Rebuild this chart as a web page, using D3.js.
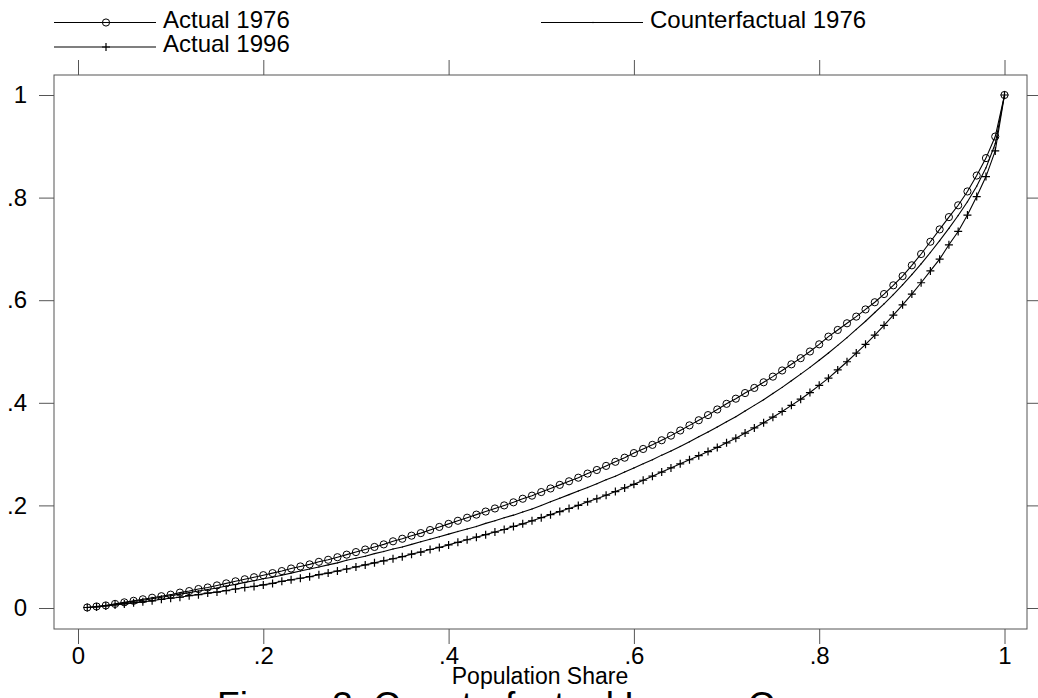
<!DOCTYPE html>
<html lang="en">
	<head>
		<meta charset="utf-8">
		<title>lorenz curves</title>
		<script type="text/javascript" src="https://cdn.jsdelivr.net/npm/d3@7"></script>
		<style type="text/css">
			body { margin: 0; background: #fff; }
			text { font-family: "Liberation Sans", Arial, sans-serif; fill: #000; }
		</style>
	</head>
	<body>
		<script type="text/javascript">

// population share (x), 100 points
var share = [0.01,0.02,0.03,0.04,0.05,0.06,0.07,0.08,0.09,0.10,
	0.11,0.12,0.13,0.14,0.15,0.16,0.17,0.18,0.19,0.20,
	0.21,0.22,0.23,0.24,0.25,0.26,0.27,0.28,0.29,0.30,
	0.31,0.32,0.33,0.34,0.35,0.36,0.37,0.38,0.39,0.40,
	0.41,0.42,0.43,0.44,0.45,0.46,0.47,0.48,0.49,0.50,
	0.51,0.52,0.53,0.54,0.55,0.56,0.57,0.58,0.59,0.60,
	0.61,0.62,0.63,0.64,0.65,0.66,0.67,0.68,0.69,0.70,
	0.71,0.72,0.73,0.74,0.75,0.76,0.77,0.78,0.79,0.80,
	0.81,0.82,0.83,0.84,0.85,0.86,0.87,0.88,0.89,0.90,
	0.91,0.92,0.93,0.94,0.95,0.96,0.97,0.98,0.99,1.00]

var actual1976 = [0.001,0.003,0.005,0.008,0.011,0.014,0.017,0.020,0.023,0.026,
	0.030,0.033,0.037,0.040,0.044,0.048,0.052,0.056,0.060,0.064,
	0.068,0.072,0.077,0.081,0.085,0.090,0.094,0.099,0.104,0.109,
	0.114,0.119,0.124,0.130,0.135,0.141,0.146,0.152,0.158,0.164,
	0.170,0.176,0.182,0.188,0.194,0.200,0.206,0.213,0.219,0.226,
	0.233,0.240,0.247,0.254,0.262,0.269,0.277,0.285,0.293,0.302,
	0.310,0.318,0.327,0.336,0.346,0.356,0.366,0.376,0.387,0.398,
	0.408,0.419,0.429,0.440,0.451,0.463,0.475,0.487,0.500,0.514,
	0.529,0.542,0.555,0.568,0.582,0.596,0.612,0.629,0.647,0.668,
	0.690,0.714,0.738,0.762,0.785,0.812,0.843,0.877,0.919,1.000]

var counter1976 = [0.001,0.003,0.005,0.007,0.010,0.013,0.015,0.018,0.021,0.024,
	0.027,0.030,0.033,0.036,0.039,0.043,0.046,0.050,0.053,0.057,
	0.060,0.064,0.068,0.072,0.076,0.080,0.084,0.088,0.093,0.097,
	0.101,0.106,0.110,0.115,0.119,0.124,0.129,0.134,0.139,0.144,
	0.149,0.154,0.159,0.165,0.170,0.176,0.181,0.187,0.193,0.200,
	0.207,0.214,0.221,0.228,0.235,0.242,0.250,0.257,0.265,0.273,
	0.281,0.289,0.298,0.306,0.315,0.324,0.334,0.343,0.353,0.363,
	0.373,0.384,0.395,0.406,0.418,0.430,0.443,0.456,0.469,0.483,
	0.497,0.512,0.527,0.543,0.559,0.576,0.593,0.611,0.630,0.650,
	0.671,0.693,0.716,0.740,0.765,0.792,0.822,0.858,0.905,1.000]

var actual1996 = [0.001,0.002,0.004,0.006,0.008,0.010,0.012,0.014,0.017,0.019,
	0.021,0.024,0.026,0.029,0.031,0.034,0.037,0.040,0.042,0.045,
	0.048,0.052,0.055,0.058,0.061,0.065,0.068,0.072,0.076,0.080,
	0.084,0.088,0.092,0.096,0.100,0.105,0.109,0.114,0.118,0.123,
	0.128,0.133,0.138,0.143,0.148,0.153,0.159,0.164,0.170,0.176,
	0.182,0.188,0.194,0.200,0.207,0.213,0.220,0.227,0.234,0.241,
	0.249,0.257,0.265,0.273,0.281,0.289,0.297,0.305,0.313,0.322,
	0.331,0.341,0.351,0.361,0.372,0.383,0.395,0.407,0.420,0.434,
	0.448,0.464,0.480,0.497,0.514,0.532,0.551,0.571,0.591,0.612,
	0.634,0.657,0.680,0.708,0.734,0.766,0.802,0.841,0.891,1.000]

var ticks = [0, 0.2, 0.4, 0.6, 0.8, 1]
var legendNames = ["Actual 1976", "Counterfactual 1976", "Actual 1996"]

var W = 1038, H = 698
var svg = d3.select("body").append("svg").attr("width", W).attr("height", H)

// plot frame
var fl = 54, fr = 1027, ft = 75, fb = 629
var x = d3.scaleLinear().domain([0, 1]).range([78, 1004.5])
var y = d3.scaleLinear().domain([0, 1]).range([608, 95])

function fmt(d){
	if (d == 0) return "0"
	if (d == 1) return "1"
	return String(d).replace(/^0/, "")
}

var axisColor = "#555"

function styleAxis(g){
	g.select(".domain").remove()
	g.selectAll(".tick line").attr("stroke", axisColor)
	g.selectAll(".tick text").attr("font-size", "24px").attr("font-family", null)
}

svg.append("g").attr("transform", "translate(" + fl + ",0)")
	.call(d3.axisLeft(y).tickValues(ticks).tickFormat(fmt).tickSize(15).tickPadding(12))
	.call(styleAxis)
svg.append("g").attr("transform", "translate(0," + fb + ")")
	.call(d3.axisBottom(x).tickValues(ticks).tickFormat(fmt).tickSize(15).tickPadding(3))
	.call(styleAxis)
svg.append("g").attr("transform", "translate(0," + ft + ")")
	.call(d3.axisTop(x).tickValues(ticks).tickFormat("").tickSize(15))
	.call(styleAxis)
svg.append("g").attr("transform", "translate(" + fr + ",0)")
	.call(d3.axisRight(y).tickValues(ticks).tickFormat("").tickSize(15))
	.call(styleAxis)

svg.append("rect").attr("x", fl).attr("y", ft).attr("width", fr - fl).attr("height", fb - ft)
	.attr("fill", "none").attr("stroke", axisColor).attr("stroke-width", 1)

// series
var series = [
	{name: legendNames[0], values: actual1976, marker: "circle"},
	{name: legendNames[1], values: counter1976, marker: "dot"},
	{name: legendNames[2], values: actual1996, marker: "plus"}
]

var line = d3.line().x(function(d){ return x(d[0]) }).y(function(d){ return y(d[1]) })

function drawMarker(g, marker){
	if (marker == "circle"){
		g.append("circle").attr("r", 3.6).attr("fill", "none").attr("stroke", "#000").attr("stroke-width", 1)
	} else if (marker == "plus"){
		g.append("path").attr("d", "M-4,0H4M0,-4V4").attr("stroke", "#000").attr("stroke-width", 1.2)
	} else {
		g.append("circle").attr("r", 0.7).attr("fill", "#000")
	}
}

series.forEach(function(s){
	var pts = share.map(function(v, i){ return [v, s.values[i]] })
	svg.append("path").datum(pts).attr("d", line)
		.attr("fill", "none").attr("stroke", "#000").attr("stroke-width", 1.1)
	svg.append("g").selectAll("g").data(pts).enter().append("g")
		.attr("transform", function(d){ return "translate(" + x(d[0]) + "," + y(d[1]) + ")" })
		.each(function(){ drawMarker(d3.select(this), s.marker) })
})

// legend
var legendPos = [[54, 22.5], [541, 22.5], [54, 47]]
series.forEach(function(s, i){
	var lx = legendPos[i][0], ly = legendPos[i][1]
	var lg = svg.append("g").attr("transform", "translate(" + lx + "," + ly + ")")
	lg.append("line").attr("x1", 0).attr("x2", 102).attr("y1", 0).attr("y2", 0)
		.attr("stroke", "#000").attr("stroke-width", 1.1)
	drawMarker(lg.append("g").attr("transform", "translate(52,0)"), s.marker)
	lg.append("text").attr("x", 109).attr("y", 5).attr("font-size", "24px").text(s.name)
})

// axis title and figure caption (caption runs off the bottom edge, as in the source)
svg.append("text").attr("x", 540).attr("y", 684).attr("text-anchor", "middle")
	.attr("font-size", "23px").text("Population Share")
svg.append("text").attr("x", 541).attr("y", 718).attr("text-anchor", "middle")
	.attr("font-size", "37px").text("Figure 3: Counterfactual Lorenz Curves")

		</script>
	</body>
</html>
